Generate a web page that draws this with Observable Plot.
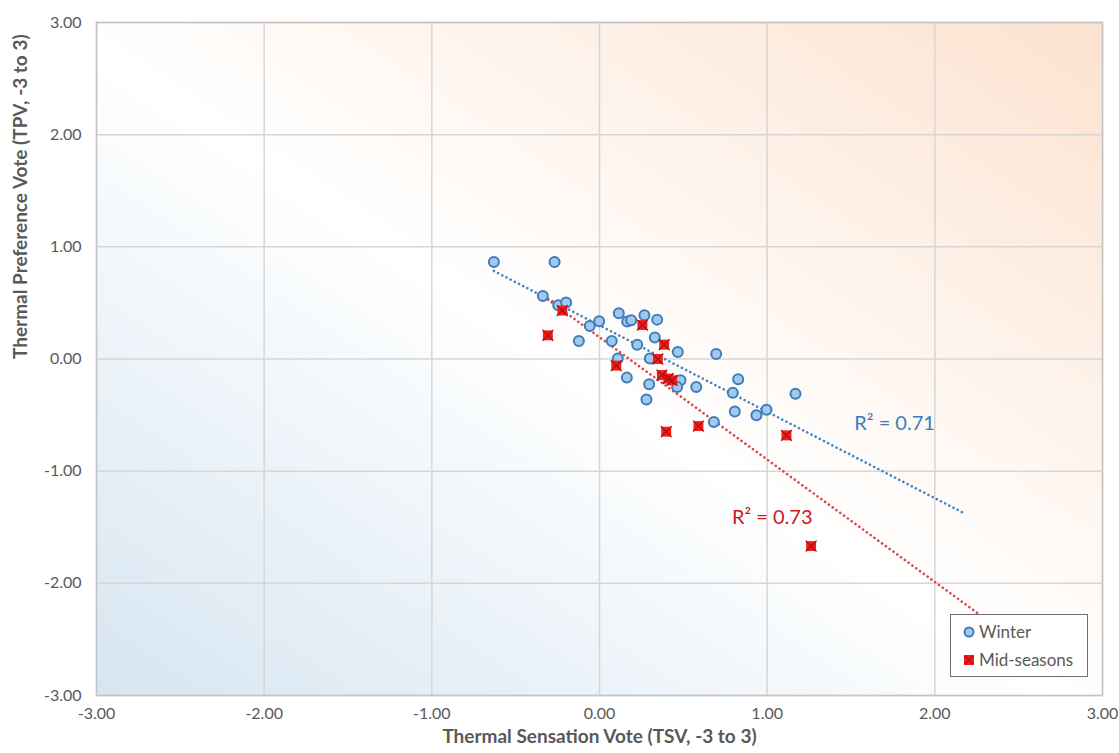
<!DOCTYPE html>
<html>
<head>
<meta charset="utf-8">
<script src="https://cdn.jsdelivr.net/npm/d3@7"></script>
<script src="https://cdn.jsdelivr.net/npm/@observablehq/plot@0.6"></script>
<style>
  html, body { margin: 0; padding: 0; background: #fff; }
  #wrap { position: relative; width: 1119px; height: 753px; font-family: Lato, "Open Sans", sans-serif; }
  #legend {
    position: absolute; left: 950px; top: 614px; width: 138px; height: 63px;
    background: #fff; border: 1.5px solid #6e6e6e; box-sizing: border-box;
    font-size: 17px; color: #595959;
  }
  #legend .item { position: absolute; left: 12px; display: flex; align-items: center; gap: 4px; }
  #legend svg { display: block; }
</style>
</head>
<body>
<div id="wrap">
  <div id="chart"></div>
  <div id="legend">
    <div class="item" style="top:6px">
      <svg width="12" height="12"><circle cx="6" cy="6" r="4.5" fill="#a4c8ea" stroke="#3a7ebf" stroke-width="2"/></svg>
      <span>Winter</span>
    </div>
    <div class="item" style="top:34px">
      <svg width="12" height="12"><rect x="1" y="1" width="10" height="10" fill="#f01e1e"/><path d="M1.5,1.5L10.5,10.5M10.5,1.5L1.5,10.5" stroke="#b50d0d" stroke-width="1.3"/></svg>
      <span>Mid-seasons</span>
    </div>
  </div>
</div>
<script>
// Winter survey means: thermal sensation vote (TSV) vs thermal preference vote (TPV)
const winterTSV = [-0.630, -0.268, -0.338, -0.246, -0.199, -0.058, -0.002, -0.123,
  0.115, 0.165, 0.189, 0.268, 0.344, 0.073, 0.225, 0.330, 0.467, 0.696,
  0.109, 0.300, 0.163, 0.296, 0.280, 0.483, 0.463, 0.577, 0.682,
  0.827, 0.795, 0.807, 0.936, 0.996, 1.169];
const winterTPV = [0.865, 0.865, 0.562, 0.479, 0.503, 0.294, 0.336, 0.161,
  0.408, 0.334, 0.345, 0.390, 0.351, 0.161, 0.128, 0.191, 0.062, 0.045,
  0.004, 0.004, -0.166, -0.226, -0.362, -0.190, -0.250, -0.250, -0.562,
  -0.181, -0.300, -0.469, -0.502, -0.452, -0.309];

// Mid-season survey means
const midTSV = [-0.222, -0.308, 0.256, 0.386, 0.348, 0.100, 0.372, 0.410, 0.433, 0.398, 0.590, 1.115, 1.262];
const midTPV = [0.432, 0.211, 0.303, 0.128, 0.000, -0.059, -0.143, -0.175, -0.190, -0.648, -0.598, -0.681, -1.668];

// Trendline annotations
const winterR2 = "R² = 0.71";
const midR2 = "R² = 0.73";
const winterLabelAt = [1.76, -0.58];
const midLabelAt = [1.03, -1.41];
const forecastForward = 1.0;

const axisTicks = [-3, -2, -1, 0, 1, 2, 3];

const winter = winterTSV.map((x, i) => ({x, y: winterTPV[i]}));
const mid = midTSV.map((x, i) => ({x, y: midTPV[i]}));

// Least-squares line, drawn from the smallest x and extended forward
function trend(points) {
  const mx = d3.mean(points, d => d.x), my = d3.mean(points, d => d.y);
  const sxy = d3.sum(points, d => (d.x - mx) * (d.y - my));
  const sxx = d3.sum(points, d => (d.x - mx) ** 2);
  const b = sxy / sxx, a = my - b * mx;
  const x0 = d3.min(points, d => d.x), x1 = d3.max(points, d => d.x) + forecastForward;
  return [{x: x0, y: a + b * x0}, {x: x1, y: a + b * x1}];
}

// Two decimals with a plain hyphen for negatives
const fmt = v => (v < 0 ? "-" : "") + Math.abs(v).toFixed(2);
const tickColor = "#595959";

const chart = Plot.plot({
  width: 1119,
  height: 753,
  marginLeft: 96,
  marginRight: 17,
  marginTop: 22,
  marginBottom: 58,
  style: {fontFamily: "Lato, 'Open Sans', sans-serif", color: tickColor, background: "transparent"},
  x: {domain: [-3, 3]},
  y: {domain: [-3, 3]},
  marks: [
    Plot.frame({fill: "url(#plotBg)", stroke: "none"}),
    Plot.gridX(axisTicks, {stroke: "#d6d6d6", strokeOpacity: 1, strokeWidth: 1.5}),
    Plot.gridY(axisTicks, {stroke: "#d6d6d6", strokeOpacity: 1, strokeWidth: 1.5}),
    Plot.frame({stroke: "#c4c4c4", strokeWidth: 1.5}),
    Plot.axisX(axisTicks, {tickSize: 0, tickPadding: 12, tickFormat: fmt, label: null, fill: tickColor, fontSize: 16}),
    Plot.axisY(axisTicks, {tickSize: 0, tickPadding: 15, tickFormat: fmt, label: null, fill: tickColor, fontSize: 16}),
    Plot.text(["Thermal Sensation Vote (TSV, -3 to 3)"], {frameAnchor: "bottom", dy: 47, fontWeight: "bold", fontSize: 19, fill: tickColor}),
    Plot.text(["Thermal Preference Vote (TPV, -3 to 3)"], {frameAnchor: "left", dx: -76, rotate: -90, fontWeight: "bold", fontSize: 19, fill: tickColor}),
    Plot.line(trend(winter), {x: "x", y: "y", stroke: "#3f86c6", strokeWidth: 2.6, strokeDasharray: "0.1,4.6", strokeLinecap: "round"}),
    Plot.line(trend(mid), {x: "x", y: "y", stroke: "#d9484a", strokeWidth: 2.6, strokeDasharray: "0.1,4.6", strokeLinecap: "round"}),
    Plot.dot(winter, {x: "x", y: "y", r: 5, fill: "#a4c8ea", stroke: "#3a7ebf", strokeWidth: 2}),
    Plot.dot(mid, {x: "x", y: "y", symbol: "square", r: 5.6, fill: "#f01e1e"}),
    Plot.dot(mid, {x: "x", y: "y", symbol: "times", r: 5, stroke: "#b50d0d", strokeWidth: 1.3}),
    Plot.text([winterR2], {x: () => winterLabelAt[0], y: () => winterLabelAt[1], fill: "#3a7ebf", fontSize: 20}),
    Plot.text([midR2], {x: () => midLabelAt[0], y: () => midLabelAt[1], fill: "#d0161b", fontSize: 20})
  ]
});

// Diagonal fill behind the plotting area: cool blue bottom-left, white middle, warm peach top-right
const ns = "http://www.w3.org/2000/svg";
const defs = document.createElementNS(ns, "defs");
defs.innerHTML = `<linearGradient id="plotBg" x1="0" y1="1" x2="1" y2="0">
  <stop offset="0" stop-color="#d6e5f1"/>
  <stop offset="0.48" stop-color="#ffffff"/>
  <stop offset="1" stop-color="#fce2cf"/>
</linearGradient>`;
chart.insertBefore(defs, chart.firstChild);

document.getElementById("chart").appendChild(chart);
</script>
</body>
</html>
